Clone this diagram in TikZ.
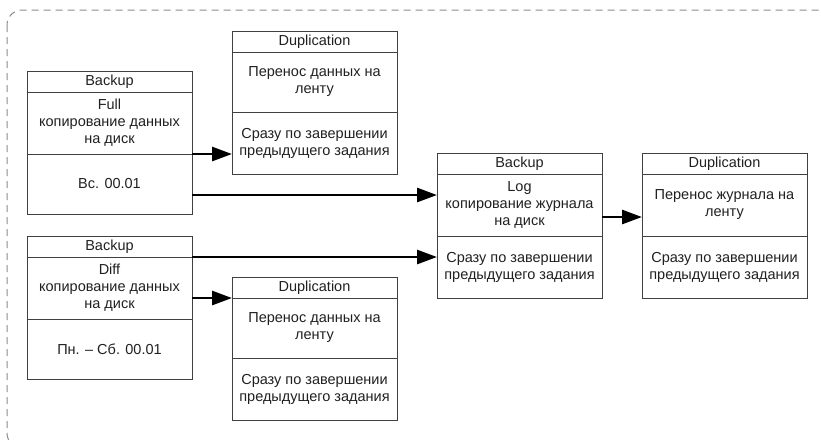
\documentclass[tikz,border=0pt]{standalone}
\usepackage{fontspec}
\setmainfont{Liberation Sans}
\usetikzlibrary{positioning,arrows.meta}
\definecolor{boxline}{HTML}{404040}
\definecolor{framegray}{HTML}{8C8C8C}
\definecolor{txtgray}{HTML}{202020}
\tikzset{
  part/.style={draw=boxline, line width=0.9pt, minimum width=165pt, inner sep=0pt,
    outer sep=0pt, align=center, text=txtgray, font=\fontsize{14.5}{17}\selectfont},
  head/.style={part, minimum height=21pt},
  body/.style={part, minimum height=62pt},
  link/.style={line width=2.8pt, -{Triangle[length=20pt,width=14pt]}},
}
\begin{document}
\begin{tikzpicture}[x=1pt,y=-1pt]
    \useasboundingbox (0,0) rectangle (821,440);
    \clip (0,0) rectangle (821,440);
    \draw [framegray, line width=1pt, dash pattern=on 7pt off 5pt, rounded corners=15pt] (7,10) rectangle (832,448);
    % full backup
    \node [head, anchor=north west] (fullh) at (27,71) {Backup};
    \node [body, below=0pt of fullh] (fullb) {Full\\копирование данных\\на диск};
    \node [body, below=0pt of fullb, minimum height=60pt] (fullf) {Вс. 00.01};
    \node [head, anchor=north west] (dup1h) at (232,31) {Duplication};
    \node [body, below=0pt of dup1h, minimum height=60pt] (dup1b) {Перенос данных на\\ленту};
    \node [body, below=0pt of dup1b] (dup1f) {Сразу по завершении\\предыдущего задания};
    % diff backup
    \node [head, anchor=north west] (diffh) at (27,236) {Backup};
    \node [body, below=0pt of diffh] (diffb) {Diff\\копирование данных\\на диск};
    \node [body, below=0pt of diffb, minimum height=60pt] (difff) {Пн. – Сб. 00.01};
    \node [head, anchor=north west] (dup2h) at (232,277) {Duplication};
    \node [body, below=0pt of dup2h, minimum height=60pt] (dup2b) {Перенос данных на\\ленту};
    \node [body, below=0pt of dup2b] (dup2f) {Сразу по завершении\\предыдущего задания};
    % log backup
    \node [head, anchor=north west] (logh) at (437,153) {Backup};
    \node [body, below=0pt of logh] (logb) {Log\\копирование журнала\\на диск};
    \node [body, below=0pt of logb] (logf) {Сразу по завершении\\предыдущего задания};
    \node [head, anchor=north west] (dup3h) at (642,153) {Duplication};
    \node [body, below=0pt of dup3h] (dup3b) {Перенос журнала на\\ленту};
    \node [body, below=0pt of dup3b] (dup3f) {Сразу по завершении\\предыдущего задания};
    % links
    \draw [link] (fullb.south east) -- (fullb.south east -| dup1f.west);
    \draw [link] ([yshift=-11pt]fullf.east) -- ([yshift=-11pt]fullf.east -| logb.west);
    \draw [link] (diffh.south east) -- (diffh.south east -| logf.west);
    \draw [link] (dup2h.south west -| diffb.east) -- (dup2h.south west);
    \draw [link] ([yshift=-12pt]logb.east) -- ([yshift=-12pt]logb.east -| dup3b.west);
\end{tikzpicture}
\end{document}
